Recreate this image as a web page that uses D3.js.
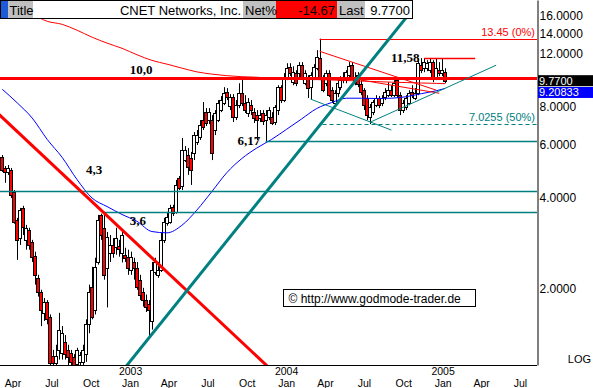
<!DOCTYPE html>
<html>
<head>
<meta charset="utf-8">
<script src="https://cdn.jsdelivr.net/npm/d3@7"></script>
<style>
body { margin: 0; background: #fff; }
svg { display: block; }
text { font-family: "Liberation Sans", Arial, sans-serif; }
</style>
</head>
<body>
<svg width="593" height="388"></svg>
<script>
// weekly candles, first week 7 Mar 2002
var firstWeek = new Date(2002, 2, 7);

var openP = [
    5.47, 5.03, 4.88, 4.95, 4.19, 3.39, 2.95, 3.71, 2.91, 3.14,
    2.87, 2.58, 2.18, 1.96, 1.67, 1.82, 1.62, 1.20, 1.14, 1.26,
    1.23, 1.34, 1.26, 1.23, 1.19, 1.13, 1.15, 1.15, 1.22, 1.53,
    2.04, 1.71, 2.46, 3.52, 3.19, 2.35, 2.64, 2.80, 2.76, 2.78,
    2.64, 2.60, 2.56, 2.32, 2.46, 2.35, 2.15, 1.96, 1.84, 1.78,
    1.57, 2.28, 2.23, 2.32, 2.91, 3.31, 3.34, 3.74, 3.60, 4.66,
    4.39, 5.34, 5.55, 5.43, 5.63, 6.12, 6.36, 7.24, 7.69, 7.24,
    7.24, 6.71, 7.24, 7.81, 8.24, 8.95, 8.05, 8.62, 7.41, 8.11,
    8.88, 8.24, 7.64, 8.11, 7.69, 7.52, 7.35, 7.64, 7.24, 7.41,
    7.41, 7.13, 7.81, 9.30, 8.43, 9.96, 10.82, 9.66, 10.35, 10.35,
    10.99, 9.58, 9.96, 9.30, 10.04, 10.74, 11.60, 10.04, 9.58, 10.35,
    9.09, 8.24, 8.88, 9.30, 10.04, 9.81, 10.19, 10.99, 9.66, 10.19,
    9.51, 9.09, 8.56, 7.41, 7.69, 8.11, 8.56, 8.24, 8.62, 8.75,
    9.09, 8.75, 9.81, 8.75, 7.81, 7.99, 8.24, 8.95, 8.56, 8.88,
    10.99, 10.74, 10.74, 10.58, 11.25, 9.96, 10.58, 10.35, 10.42
];
var highP = [
    5.55, 5.10, 5.14, 5.03, 4.25, 3.44, 3.71, 3.77, 3.26, 3.19,
    2.91, 2.66, 2.23, 1.99, 1.87, 1.84, 1.65, 1.26, 1.31, 1.67,
    1.51, 1.41, 1.31, 1.26, 1.22, 1.28, 1.24, 1.31, 1.59, 2.07,
    2.37, 2.54, 3.52, 3.55, 3.60, 3.09, 3.02, 2.95, 3.19, 2.91,
    3.09, 2.74, 2.70, 2.66, 2.54, 2.46, 2.23, 2.02, 1.92, 1.84,
    2.46, 2.54, 2.46, 3.07, 3.44, 3.60, 3.80, 3.80, 4.59, 4.73,
    6.32, 5.94, 5.85, 5.68, 6.61, 6.71, 7.24, 8.30, 7.93, 7.93,
    7.52, 7.81, 8.43, 8.69, 9.30, 9.23, 8.82, 8.82, 8.43, 9.58,
    10.04, 8.75, 8.56, 8.43, 7.93, 7.81, 7.81, 7.81, 7.81, 7.99,
    7.69, 8.11, 9.44, 9.44, 10.35, 11.16, 11.16, 10.90, 10.58, 11.25,
    11.25, 10.58, 10.19, 10.42, 11.08, 12.32, 13.45, 10.19, 10.58, 10.58,
    9.30, 9.09, 9.81, 10.11, 10.42, 10.58, 11.25, 11.25, 10.42, 10.42,
    9.81, 9.23, 8.75, 8.18, 8.43, 8.75, 8.69, 8.75, 9.23, 9.66,
    9.44, 9.81, 9.96, 8.95, 8.43, 8.75, 9.09, 9.44, 9.23, 11.60,
    11.60, 11.60, 11.42, 11.60, 11.42, 11.60, 11.25, 11.60, 10.74
];
var lowP = [
    4.88, 4.49, 4.77, 4.00, 3.29, 2.50, 2.80, 3.02, 2.70, 2.70,
    2.46, 2.07, 1.89, 1.51, 1.57, 1.53, 1.11, 1.08, 1.08, 1.17,
    1.17, 1.17, 1.11, 1.08, 1.08, 1.08, 1.08, 1.10, 1.15, 1.43,
    1.59, 1.65, 2.41, 2.91, 2.15, 1.74, 2.46, 2.54, 2.60, 2.56,
    2.45, 2.46, 2.23, 2.23, 2.15, 1.99, 1.84, 1.75, 1.68, 1.37,
    1.47, 2.23, 2.18, 2.28, 2.84, 3.24, 3.29, 3.49, 3.55, 4.25,
    4.25, 5.26, 4.77, 4.42, 5.34, 5.99, 6.22, 6.71, 6.92, 7.02,
    5.34, 6.46, 7.13, 7.69, 8.11, 8.43, 7.81, 7.13, 7.24, 7.93,
    8.05, 7.64, 7.41, 7.52, 7.08, 6.22, 7.13, 6.97, 6.17, 7.24,
    6.97, 6.97, 7.52, 8.24, 8.30, 9.81, 10.11, 9.44, 9.37, 9.96,
    9.81, 9.44, 8.56, 8.49, 9.81, 10.58, 9.81, 8.95, 9.37, 8.62,
    8.24, 8.11, 8.62, 9.09, 9.58, 9.58, 10.04, 9.81, 9.44, 9.30,
    8.75, 7.81, 7.24, 7.02, 7.52, 7.99, 7.93, 8.05, 8.43, 8.62,
    8.62, 8.62, 8.56, 7.52, 7.64, 7.81, 8.11, 8.56, 8.43, 8.75,
    10.35, 10.42, 10.50, 10.35, 9.66, 9.81, 10.11, 10.11, 9.58
];
var closeP = [
    4.95, 4.88, 5.03, 4.10, 3.34, 2.91, 3.65, 3.21, 3.19, 2.80,
    2.56, 2.23, 1.96, 1.71, 1.82, 1.59, 1.14, 1.14, 1.20, 1.47,
    1.43, 1.22, 1.19, 1.15, 1.12, 1.26, 1.21, 1.26, 1.53, 1.96,
    1.62, 2.37, 3.39, 3.02, 2.23, 2.98, 2.80, 2.64, 2.95, 2.72,
    3.02, 2.54, 2.35, 2.56, 2.35, 2.04, 1.92, 1.84, 1.75, 1.71,
    2.32, 2.45, 2.32, 2.91, 3.34, 3.47, 3.71, 3.57, 4.42, 4.32,
    5.76, 5.76, 5.06, 4.95, 6.46, 6.46, 6.97, 6.86, 7.08, 7.69,
    5.63, 7.64, 8.24, 8.43, 8.88, 8.62, 8.62, 7.41, 8.11, 8.88,
    8.24, 7.81, 8.30, 7.81, 7.35, 7.24, 7.52, 7.19, 7.52, 7.81,
    7.08, 7.99, 9.30, 8.43, 10.04, 10.74, 10.35, 10.42, 9.58, 10.99,
    10.04, 10.35, 9.23, 10.19, 10.82, 11.68, 10.04, 9.09, 10.35, 8.75,
    8.43, 8.88, 9.58, 9.81, 9.81, 10.42, 10.90, 9.96, 10.04, 9.51,
    8.95, 8.11, 7.52, 7.99, 8.30, 8.56, 8.11, 8.56, 8.95, 9.09,
    8.75, 9.58, 8.75, 7.81, 8.24, 8.56, 8.88, 8.75, 8.88, 11.16,
    10.58, 11.25, 11.16, 11.25, 9.96, 10.74, 10.35, 10.58, 9.77
];

// moving averages, sampled at candle indices
var maIdx = [0, 5, 10, 15, 20, 25, 30, 35, 40, 45, 50, 55, 60, 65, 70, 75,
    80, 85, 90, 95, 100, 105, 110, 115, 120, 125, 130, 135, 140, 145, 148];
var blueMA = [9.15, 8.25, 7.35, 6.25, 5.45, 4.6, 4.0, 3.75, 3.53, 3.35, 3.1, 3.07,
    3.25, 3.65, 4.2, 4.85, 5.4, 5.85, 6.25, 6.75, 7.3, 7.9, 8.27, 8.55, 8.55,
    8.53, 8.55, 8.65, 8.85, 9.05, 9.21];
var redMA = [17.8, 17.0, 16.2, 15.35, 15.0, 14.34, 13.6, 13.0, 12.5, 11.9, 11.4,
    11.08, 10.75, 10.45, 10.27, 10.15, 10.07, 10.03, 9.95, 9.9, 9.87, 9.85, 9.82,
    9.78, 9.74, 9.7, 9.66, 9.63, 9.6, 9.57, 9.55];

// horizontal levels
var levelPrice = [10.0, 4.22, 3.6, 6.17, 13.45, 7.0255, 11.58];
var levelFrom = [null, null, 34, 88, 106, 107, 141];
var levelTo = [null, null, null, null, null, null, 158];

// trend lines [idx, price] pairs
var redTrendLong = [[0, 7.38], [34, 3.57]];
var tealTrendLong = [[49, 1.38], [121, 10.63]];
var redSegs = [[[106, 12.22], [145, 9.09]], [[120, 9.81], [146, 8.88]]];
var tealSegs = [[[103, 8.49], [130, 6.71]], [[123, 7.13], [165, 10.99]]];

// annotations
var annText = ['10,0', '4,3', '3,6', '6,17', '11,58'];
var annIdx = [42.5, 28, 42.5, 78.5, 129.8];
var annPrice = [10.0, 4.22, 3.6, 6.17, 11.58];
var annDy = [-4, -17, 13, 4, 4];

var yTicks = [2, 4, 6, 8, 12, 14, 16];
var lastClose = 9.77, lastMA = 9.20833;

var svg = d3.select('svg');
var plotW = 537, plotH = 365, titleH = 19;

var x = d3.scaleTime()
    .domain([new Date(2002, 0, 1), new Date(2005, 6, 1)])
    .range([-25.5, 520.5]);
var y = d3.scaleLog().domain([1.123, 18.05]).range([plotH, 0]);

function weekDate(i) {
    return d3.timeDay.offset(firstWeek, Math.round(7 * i));
}
function px(i) { return x(weekDate(i)); }

var defs = svg.append('defs');
defs.append('clipPath').attr('id', 'plotclip')
    .append('rect').attr('width', plotW).attr('height', plotH);
defs.append('clipPath').attr('id', 'lineclip')
    .append('rect').attr('y', titleH).attr('width', plotW).attr('height', plotH - titleH);

var plotG = svg.append('g').attr('clip-path', 'url(#plotclip)');

// candles
var candles = closeP.map(function(c, i) {
    return {i: i, o: openP[i], h: highP[i], l: lowP[i], c: c};
});
var cg = plotG.selectAll('.candle').data(candles).enter().append('g')
    .attr('class', 'candle');
cg.append('line')
    .attr('x1', function(d) { return Math.round(px(d.i)) + 0.5; })
    .attr('x2', function(d) { return Math.round(px(d.i)) + 0.5; })
    .attr('y1', function(d) { return y(d.h); })
    .attr('y2', function(d) { return y(d.l); })
    .attr('stroke', '#000').attr('stroke-width', 1);
cg.append('rect')
    .attr('x', function(d) { return Math.round(px(d.i)) - 1.5; })
    .attr('width', 3)
    .attr('y', function(d) { return Math.round(y(Math.max(d.o, d.c))) + 0.5; })
    .attr('height', function(d) {
        return Math.max(1, Math.round(y(Math.min(d.o, d.c))) - Math.round(y(Math.max(d.o, d.c))));
    })
    .attr('fill', function(d) { return d.c < d.o ? '#ff0000' : '#ffffff'; })
    .attr('stroke', '#000').attr('stroke-width', 1);

// moving averages
var maLine = d3.line().curve(d3.curveMonotoneX);
plotG.append('path')
    .attr('d', maLine(maIdx.map(function(k, j) { return [px(k), y(redMA[j])]; })))
    .attr('fill', 'none').attr('stroke', '#ff0000').attr('stroke-width', 1);
plotG.append('path')
    .attr('d', maLine(maIdx.map(function(k, j) { return [px(k), y(blueMA[j])]; })))
    .attr('fill', 'none').attr('stroke', '#0000ff').attr('stroke-width', 1);

// horizontal levels
var levelColor = ['#ff0000', '#008080', '#008080', '#008080', '#ff0000', '#008080', '#ff0000'];
var levelWidth = [3, 1.5, 1.5, 1.5, 1, 1, 1.5];
levelPrice.forEach(function(p, j) {
    var yy = Math.round(y(p)) + 0.5;
    var l = plotG.append('line')
        .attr('x1', levelFrom[j] === null ? 0 : px(levelFrom[j]))
        .attr('x2', levelTo[j] === null ? plotW : px(levelTo[j]))
        .attr('y1', yy).attr('y2', yy)
        .attr('stroke', levelColor[j]).attr('stroke-width', levelWidth[j]);
    if (j === 5) l.attr('stroke-dasharray', '4,3');
});

// extended trend lines (stop under the title bar)
var lineG = svg.append('g').attr('clip-path', 'url(#lineclip)');
function longLine(pts, color, w) {
    var x1 = px(pts[0][0]), y1 = y(pts[0][1]);
    var x2 = px(pts[1][0]), y2 = y(pts[1][1]);
    var m = (y2 - y1) / (x2 - x1);
    lineG.append('line')
        .attr('x1', -50).attr('y1', y1 + m * (-50 - x1))
        .attr('x2', 700).attr('y2', y1 + m * (700 - x1))
        .attr('stroke', color).attr('stroke-width', w);
}
longLine(redTrendLong, '#ff0000', 3);
longLine(tealTrendLong, '#008080', 3);

function segLine(seg, color) {
    plotG.append('line')
        .attr('x1', px(seg[0][0])).attr('y1', y(seg[0][1]))
        .attr('x2', px(seg[1][0])).attr('y2', y(seg[1][1]))
        .attr('stroke', color).attr('stroke-width', 1);
}
redSegs.forEach(function(s) { segLine(s, '#ff0000'); });
tealSegs.forEach(function(s) { segLine(s, '#008080'); });

// level labels
svg.append('text').attr('x', plotW - 2).attr('y', y(13.45) - 3)
    .attr('text-anchor', 'end').attr('font-size', 11).attr('fill', '#ff0000')
    .text('13.45 (0%)');
svg.append('text').attr('x', plotW - 2).attr('y', y(7.0255) - 3)
    .attr('text-anchor', 'end').attr('font-size', 11).attr('fill', '#008080')
    .text('7.0255 (50%)');

// bold annotations
annText.forEach(function(t, j) {
    svg.append('text')
        .attr('x', px(annIdx[j])).attr('y', y(annPrice[j]) + annDy[j])
        .style('font-family', '"Liberation Serif", "Times New Roman", serif')
        .style('font-weight', 'bold').attr('font-size', 13).attr('fill', '#000')
        .text(t);
});

// copyright box
var cr = svg.append('g').attr('transform', 'translate(283.5,289.5)');
cr.append('rect').attr('width', 192).attr('height', 17)
    .attr('fill', '#fff').attr('stroke', '#000');
cr.append('text').attr('x', 5).attr('y', 13).attr('font-size', 12)
    .text('\u00a9  http://www.godmode-trader.de');

// bottom axis line
svg.append('line').attr('x1', 0).attr('x2', plotW)
    .attr('y1', plotH + 0.5).attr('y2', plotH + 0.5).attr('stroke', '#000');

// time axis labels
var quarters = d3.timeMonth.every(3).range(new Date(2002, 3, 1), new Date(2005, 6, 2));
var xg = svg.append('g');
xg.selectAll('.mon').data(quarters).enter().append('text')
    .attr('x', function(d) { return x(d); })
    .attr('y', 387).attr('text-anchor', 'middle').attr('font-size', 10.5)
    .text(d3.timeFormat('%b'));
xg.selectAll('.yr').data(quarters.filter(function(d) { return d.getMonth() === 0; }))
    .enter().append('text')
    .attr('x', function(d) { return x(d); })
    .attr('y', 375).attr('text-anchor', 'middle').attr('font-size', 10.5)
    .text(d3.timeFormat('%Y'));

// price axis
var yAxis = d3.axisRight(y).tickValues(yTicks).tickSize(0).tickPadding(2)
    .tickFormat(d3.format('.4f'));
var yg = svg.append('g').attr('transform', 'translate(' + (plotW + 0.5) + ',0)').call(yAxis);
yg.select('.domain').attr('stroke', '#000');
yg.selectAll('text').attr('font-size', 12)
    .style('font-family', '"Liberation Sans", Arial, sans-serif').attr('fill', '#000');

// last value boxes (blue one sits just below the black one)
var boxes = [[lastMA, '#0000ff', '9.20833', 4], [lastClose, '#000000', '9.7700', 0]];
boxes.forEach(function(b) {
    var yy = y(b[0]) + b[3];
    svg.append('rect').attr('x', plotW + 1).attr('y', yy - 5.5)
        .attr('width', 593 - plotW - 1).attr('height', 11).attr('fill', b[1]);
    svg.append('text').attr('x', plotW + 2).attr('y', yy + 4)
        .attr('font-size', 11).attr('fill', '#fff').text(b[2]);
});

svg.append('text').attr('x', 591).attr('y', 363).attr('text-anchor', 'end')
    .attr('font-size', 11).text('LOG');

// title bar
var tb = svg.append('g');
var cells = [[0, 8, '#1c5ad8'], [8, 33, '#c0c0c0'], [33, 243, '#ffffff'],
    [243, 276, '#c0c0c0'], [276, 337, '#ff0000'], [337, 365, '#c0c0c0'], [365, 413, '#ffffff']];
cells.forEach(function(c) {
    tb.append('rect').attr('x', c[0]).attr('y', 0).attr('width', c[1] - c[0])
        .attr('height', titleH).attr('fill', c[2]);
});
tb.append('rect').attr('x', 0.5).attr('y', 0.5).attr('width', 412).attr('height', titleH - 1)
    .attr('fill', 'none').attr('stroke', '#000');
var titles = [['Title', 9.5, 'start'], ['CNET Networks, Inc.', 241, 'end'], ['Net%', 245, 'start'],
    ['-14.67', 335, 'end'], ['Last', 339, 'start'], ['9.7700', 410, 'end']];
titles.forEach(function(t) {
    tb.append('text').attr('x', t[1]).attr('y', 14.5).attr('text-anchor', t[2])
        .attr('font-size', 13).attr('fill', '#000').text(t[0]);
});
</script>
</body>
</html>
